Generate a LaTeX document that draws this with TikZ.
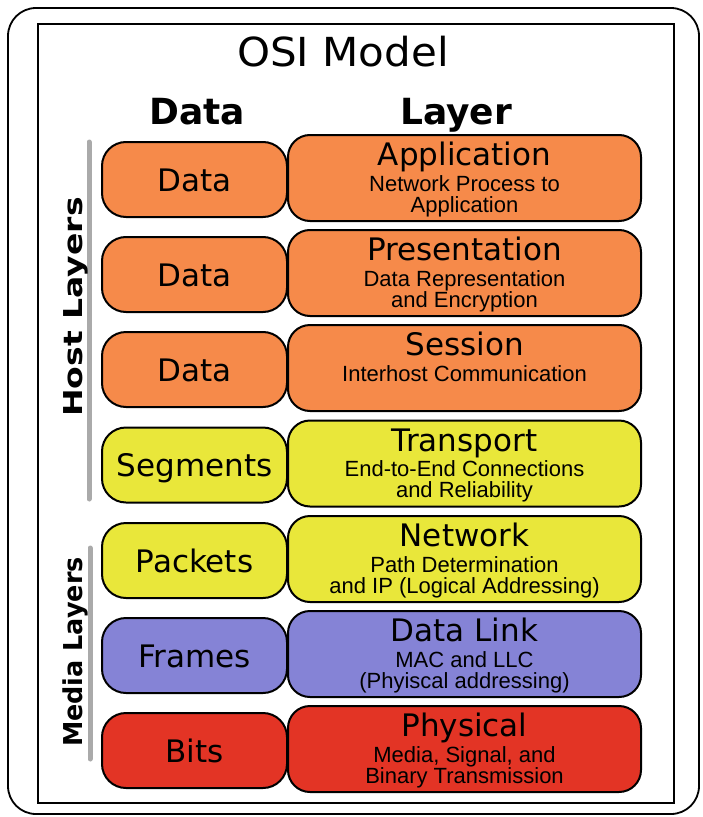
\documentclass[tikz,border=0pt]{standalone}
\usepackage{fontspec}
\setmainfont{DejaVu Sans}
\newfontfamily\titlefont[FakeStretch=1.05]{DejaVu Sans}
\newfontfamily\subfont{Liberation Sans}
\newfontfamily\hostfont[FakeStretch=1.27]{DejaVu Sans}
\newfontfamily\mediafont[FakeStretch=0.98]{DejaVu Sans}
\definecolor{orA}{HTML}{F68A4A}
\definecolor{yeA}{HTML}{E9E73A}
\definecolor{puA}{HTML}{8583D6}
\definecolor{reA}{HTML}{E33425}
\definecolor{barA}{HTML}{AAAAAA}
\tikzset{
  databox/.style={draw=black, line width=2bp, rounded corners=24bp,
    minimum width=185bp, minimum height=75bp, inner sep=0pt,
    text height=23bp, text depth=0pt, font=\fontsize{31bp}{31bp}\selectfont},
  layerbox/.style={draw=black, line width=2bp, rounded corners=22bp,
    minimum width=353bp, minimum height=86bp, inner sep=0pt},
  ltitle/.style={anchor=base, inner sep=0pt, font=\fontsize{31bp}{31bp}\selectfont},
  lsub/.style={anchor=base, inner sep=0pt, font=\subfont\fontsize{22bp}{22bp}\selectfont},
  sidebar/.style={draw=barA, line width=5bp, line cap=round},
  sidetext/.style={anchor=base, rotate=90, inner sep=0pt},
  header/.style={anchor=base, inner sep=0pt, font=\bfseries\fontsize{36bp}{36bp}\selectfont},
}
\newcommand\osirow[7]{%
  \node[databox, fill=#3] (d#1) at (194.5,#2+44.5) {#4};
  \node[layerbox, fill=#3] (l#1) at (464.5,#2+43) {};
  \node[ltitle] (t#1) at (464.5,#2+30.5) {#5};
  \node[lsub] (a#1) at (464.5,#2+56) {#6};
  \if\relax\detokenize{#7}\relax\else
    \node[lsub] (b#1) at (464.5,#2+77) {#7};
  \fi
}
\begin{document}
\begin{tikzpicture}[x=1bp,y=-1bp]
\useasboundingbox (0,0) rectangle (703,817);
\draw[line width=1.8bp, rounded corners=28bp] (8,8) rectangle (699,814);
\draw[line width=1.2bp] (38,24) rectangle (674,803);
\node[anchor=base, inner sep=0pt, font=\titlefont\fontsize{40bp}{40bp}\selectfont] (title) at (343,67) {OSI Model};
\node[header] (hdata) at (197,124) {Data};
\node[header] (hlayer) at (456,124) {Layer};
\draw[sidebar] (89,142) -- (89,499);
\draw[sidebar] (90,548) -- (90,759);
\node[sidetext, font=\hostfont\bfseries\fontsize{26bp}{26bp}\selectfont] (host) at (82,307) {Host Layers};
\node[sidetext, font=\mediafont\bfseries\fontsize{26bp}{26bp}\selectfont] (media) at (82,652) {Media Layers};
\osirow{1}{135}{orA}{Data}{Application}{Network Process to}{Application}
\osirow{2}{230}{orA}{Data}{Presentation}{Data Representation}{and Encryption}
\osirow{3}{325}{orA}{Data}{Session}{Interhost Communication}{}
\osirow{4}{420.5}{yeA}{Segments}{Transport}{End-to-End Connections}{and Reliability}
\osirow{5}{516}{yeA}{Packets}{Network}{Path Determination}{and IP (Logical Addressing)}
\osirow{6}{611}{puA}{Frames}{Data Link}{MAC and LLC}{(Phyiscal addressing)}
\osirow{7}{706}{reA}{Bits}{Physical}{Media, Signal, and}{Binary Transmission}
\end{tikzpicture}
\end{document}
